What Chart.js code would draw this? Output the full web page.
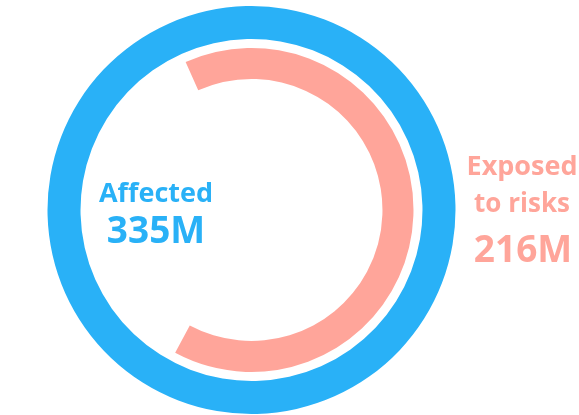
<!DOCTYPE html>
<html>
<head>
<meta charset="utf-8">
<script src="https://cdn.jsdelivr.net/npm/chart.js@4"></script>
<style>
  html, body { margin: 0; padding: 0; background: #fff; }
  #wrap { position: relative; width: 579px; height: 415px; }
</style>
</head>
<body>
<div id="wrap"><canvas id="ringChart" width="579" height="415"></canvas></div>
<script>
var categories = ['Affected', 'Exposed to risks'];
var values = [335, 216]; // millions
var valueLabels = ['335M', '216M'];

var blue = '#29b1f7';
var salmon = '#ffa59a';

// labels drawn on the canvas next to / inside the rings
var textPlugin = {
    id: 'ringText',
    afterDraw: function (chart) {
        var ctx = chart.ctx;
        ctx.save();
        ctx.textAlign = 'center';
        ctx.textBaseline = 'alphabetic';
        ctx.fillStyle = blue;
        ctx.font = 'bold 27px "Open Sans"';
        ctx.fillText(categories[0], 156, 202);
        ctx.font = 'bold 37px "Open Sans"';
        ctx.fillText(valueLabels[0], 156, 243);

        ctx.fillStyle = salmon;
        ctx.font = 'bold 27px "Open Sans"';
        ctx.fillText('Exposed', 522, 175);
        ctx.font = 'bold 26px "Open Sans"';
        ctx.fillText('to risks', 522, 212);
        ctx.font = 'bold 37px "Open Sans"';
        ctx.fillText(valueLabels[1], 523, 262);
        ctx.restore();
    }
};

var ctx = document.getElementById('ringChart').getContext('2d');
var chart = new Chart(ctx, {
    type: 'doughnut',
    data: {
        labels: ['value', 'rest'],
        datasets: [{
            label: categories[0],
            data: [values[0]],
            backgroundColor: [blue],
            borderWidth: 0,
            weight: 33
        },
        {
            label: 'gap',
            data: [values[0]],
            backgroundColor: ['rgba(0,0,0,0)'],
            borderWidth: 0,
            weight: 9
        },
        {
            label: categories[1],
            data: [values[1], values[0] - values[1]],
            backgroundColor: [salmon, 'rgba(0,0,0,0)'],
            borderWidth: 0,
            weight: 31
        }]
    },
    options: {
        responsive: false,
        animation: false,
        rotation: -24,
        cutout: '64.2%',
        layout: { padding: { left: 46, right: 122, top: 6, bottom: 1 } },
        plugins: {
            legend: { display: false },
            tooltip: { enabled: false }
        }
    },
    plugins: [textPlugin]
});
</script>
</body>
</html>
